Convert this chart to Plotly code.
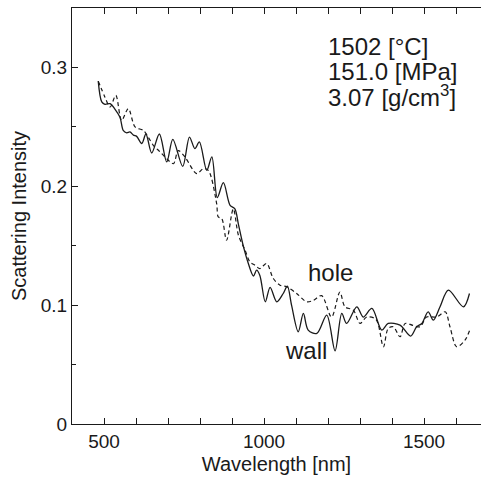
import plotly.graph_objects as go

# wall (solid) curve
wall_x = [482, 493, 503, 519, 534, 550, 560, 571, 581, 592, 602, 618, 631, 649, 673, 696, 715, 746,
          767, 784, 798, 821, 837, 854, 873, 894, 909, 920, 935, 951, 967, 977, 987, 1004, 1019, 1040,
          1060, 1073, 1086, 1107, 1123, 1138, 1165, 1196, 1222, 1243, 1258, 1290, 1310, 1337, 1368,
          1388, 1425, 1458, 1477, 1493, 1513, 1529, 1550, 1576, 1623, 1642]
wall_y = [0.2885, 0.271, 0.269, 0.2695, 0.265, 0.258, 0.247, 0.245, 0.2457, 0.243, 0.242, 0.236, 0.244,
          0.228, 0.244, 0.2205, 0.2395, 0.2168, 0.2414, 0.2317, 0.2373, 0.2134, 0.2247, 0.1905, 0.203,
          0.184, 0.181, 0.168, 0.150, 0.135, 0.1245, 0.1294, 0.125, 0.1028, 0.115, 0.1028, 0.1098,
          0.1160, 0.1000, 0.0776, 0.093, 0.079, 0.0762, 0.0916, 0.0616, 0.093, 0.0846, 0.0986, 0.090,
          0.0972, 0.079, 0.0846, 0.0832, 0.074, 0.0818, 0.0846, 0.0944, 0.0874, 0.0986, 0.1126,
          0.0986, 0.1098]

# hole (dashed) curve
hole_x = [482, 503, 519, 537, 555, 576, 597, 623, 638, 654, 675, 696, 717, 732, 753, 790, 810, 826,
          852, 857, 868, 883, 904, 920, 941, 956, 972, 987, 1008, 1029, 1050, 1071, 1102, 1133, 1154,
          1180, 1211, 1237, 1253, 1279, 1300, 1321, 1350, 1373, 1388, 1404, 1425, 1441, 1465, 1488,
          1508, 1540, 1566, 1581, 1602, 1628, 1642]
hole_y = [0.2885, 0.275, 0.2667, 0.2765, 0.2555, 0.2653, 0.250, 0.247, 0.2414, 0.2345, 0.229, 0.2232,
          0.219, 0.230, 0.2246, 0.2106, 0.2148, 0.2134, 0.1854, 0.1742, 0.1728, 0.1546, 0.181, 0.1588,
          0.146, 0.1364, 0.1336, 0.1308, 0.135, 0.1224, 0.1168, 0.1154, 0.1098, 0.1028, 0.104, 0.1080,
          0.090, 0.111, 0.0986, 0.0958, 0.0846, 0.090, 0.088, 0.065, 0.0804, 0.0818, 0.0734, 0.0846,
          0.083, 0.0818, 0.090, 0.090, 0.0944, 0.0818, 0.065, 0.0706, 0.0784]

x_tickvals = [500, 1000, 1500]
x_ticktext = ["500", "1000", "1500"]
y_tickvals = [0, 0.1, 0.2, 0.3]
y_ticktext = ["0", "0.1", "0.2", "0.3"]

FONT = "Liberation Sans, Arial, Helvetica, sans-serif"
INK = "#1a1a1a"

fig = go.Figure()
fig.add_trace(go.Scatter(x=hole_x, y=hole_y, mode="lines",
                         line=dict(color=INK, width=1.2, dash="4px,3px", shape="spline", smoothing=0.9),
                         showlegend=False, hoverinfo="skip"))
fig.add_trace(go.Scatter(x=wall_x, y=wall_y, mode="lines",
                         line=dict(color=INK, width=1.3, shape="spline", smoothing=0.9),
                         showlegend=False, hoverinfo="skip"))

fig.update_layout(
    width=481, height=478,
    margin=dict(l=72, r=0, t=8, b=54),
    paper_bgcolor="white", plot_bgcolor="white",
    font=dict(family=FONT, size=19, color=INK),
    xaxis=dict(range=[400, 1678], tickvals=x_tickvals, ticktext=x_ticktext,
               ticks="inside", ticklen=6, tickwidth=1.2, tickcolor=INK,
               minor=dict(ticks="inside", ticklen=6, tickwidth=1.2, tickcolor=INK, dtick=100, tick0=0,
                          showgrid=False),
               showline=True, linecolor=INK, linewidth=1.3, mirror="allticks",
               showgrid=False, zeroline=False,
               tickfont=dict(size=19),
               title=dict(text="Wavelength [nm]", font=dict(size=20), standoff=6)),
    yaxis=dict(range=[0, 0.35], tickvals=y_tickvals, ticktext=y_ticktext,
               ticks="inside", ticklen=6, tickwidth=1.2, tickcolor=INK,
               minor=dict(ticks="inside", ticklen=4, tickwidth=1.2, tickcolor=INK, dtick=0.05, tick0=0,
                          showgrid=False),
               showline=True, linecolor=INK, linewidth=1.3, mirror=False,
               showgrid=False, zeroline=False,
               tickfont=dict(size=19),
               title=dict(text="Scattering Intensity", font=dict(size=20), standoff=8)),
)

ann_font = dict(family=FONT, size=24, color=INK)
for txt, yv in [("1502 [°C]", 0.3172), ("151.0 [MPa]", 0.2963), ("3.07 [g/cm<sup>3</sup>]", 0.2756)]:
    fig.add_annotation(x=1197, y=yv, xref="x", yref="y", text=txt, showarrow=False,
                       xanchor="left", yanchor="middle", font=ann_font, borderpad=0)
fig.add_annotation(x=1134, y=0.1272, xref="x", yref="y", text="hole", showarrow=False,
                   xanchor="left", yanchor="middle", font=ann_font, borderpad=0)
fig.add_annotation(x=1062, y=0.0617, xref="x", yref="y", text="wall", showarrow=False,
                   xanchor="left", yanchor="middle", font=ann_font, borderpad=0)

fig.write_html("out.html")
